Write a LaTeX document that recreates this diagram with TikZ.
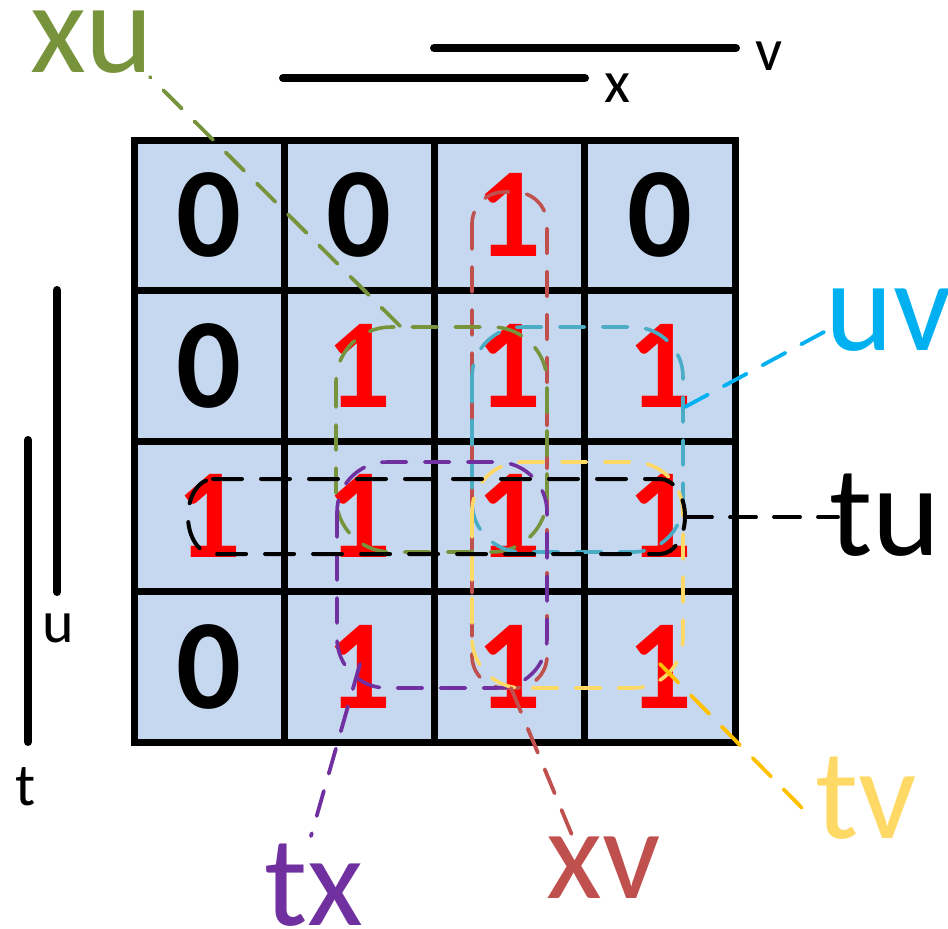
\documentclass[tikz,border=0pt]{standalone}
\usepackage{fontspec}
\setmainfont{Carlito}
\definecolor{cellfill}{HTML}{C5D8EF}
\definecolor{kgreen}{HTML}{77933C}
\definecolor{kblue}{HTML}{4BACC6}
\definecolor{kcyan}{HTML}{00B0F0}
\definecolor{kyellow}{HTML}{FFD966}
\definecolor{korange}{HTML}{FFC000}
\definecolor{kred}{HTML}{C0504D}
\definecolor{kpurple}{HTML}{7030A0}
\definecolor{kone}{HTML}{FF0000}
\tikzset{
  gridline/.style={line width=7pt, line cap=rect},
  digit/.style={inner sep=0pt, font=\fontsize{128}{128}\selectfont\bfseries},
  zero/.style={digit, text=black},
  one/.style={digit, text=kone},
  biglabel/.style={inner sep=0pt, anchor=base, font=\fontsize{129}{129}\selectfont},
  smalllabel/.style={inner sep=0pt, anchor=base, font=\fontsize{60}{60}\selectfont},
  varbar/.style={line width=8pt, line cap=round},
  loop/.style={line width=3.6pt, line cap=round, dash pattern=on 25pt off 18pt, rounded corners=#1},
  link/.style={line width=3.8pt, line cap=round, dash pattern=on 26pt off 18pt}
}
\begin{document}
\begin{tikzpicture}[x=1pt, y=-1pt]
\useasboundingbox (0,0) rectangle (948,929);

% cells of the map
\fill[cellfill] (134,140) rectangle (735,742);
\foreach \i in {0,...,4} {
  \draw[gridline] ({134+150.25*\i},140) -- ({134+150.25*\i},742);
  \draw[gridline] (134,{140+150.5*\i}) -- (735,{140+150.5*\i});
}

% cell values, row by row
\node[zero] (c11) at (209,215) {0};
\node[zero] (c12) at (359,215) {0};
\node[one]  (c13) at (509,215) {1};
\node[zero] (c14) at (660,215) {0};
\node[zero] (c21) at (209,366) {0};
\node[one]  (c22) at (359,366) {1};
\node[one]  (c23) at (509,366) {1};
\node[one]  (c24) at (660,366) {1};
\node[one]  (c31) at (209,516) {1};
\node[one]  (c32) at (359,516) {1};
\node[one]  (c33) at (509,516) {1};
\node[one]  (c34) at (660,516) {1};
\node[zero] (c41) at (209,667) {0};
\node[one]  (c42) at (359,667) {1};
\node[one]  (c43) at (509,667) {1};
\node[one]  (c44) at (660,667) {1};

% variable bars
\draw[varbar] (434,48) -- (736,48);
\draw[varbar] (283,78) -- (585,78);
\draw[varbar] (57,290) -- (57,592);
\draw[varbar] (28,440) -- (28,742);
\node[smalllabel] (lv) at (769,70) {v};
\node[smalllabel] (lx) at (617,102) {x};
\node[smalllabel] (lu) at (58,642) {u};
\node[smalllabel] (lt) at (26,805) {t};

% groupings
\draw[kred, loop=32pt] (472,192) rectangle (547,688);
\draw[kgreen, loop=55pt] (336,327) rectangle (547,552);
\draw[kblue, loop=50pt] (472,327) rectangle (683,552);
\draw[kpurple, loop=50pt] (337,462) rectangle (547,688);
\draw[kyellow, loop=50pt] (472,462) rectangle (683,688);
\draw[black, line width=4pt, line cap=round, dash pattern=on 29pt off 19pt]
  (213,479) -- (660,479) arc[start angle=90, end angle=-90, x radius=25pt, y radius=37.5pt]
  -- (213,554) arc[start angle=270, end angle=90, x radius=25pt, y radius=37.5pt];

% group names
\node[biglabel, text=kgreen]  (nxu) at (92,72)   {xu};
\node[biglabel, text=kcyan]   (nuv) at (889,350) {uv};
\node[biglabel, text=black]   (ntu) at (885,555) {tu};
\node[biglabel, text=kyellow] (ntv) at (866,838) {tv};
\node[biglabel, text=kred]    (nxv) at (604,898) {xv};
\node[biglabel, text=kpurple] (ntx) at (314,925) {tx};

% leader lines
\coordinate (xuA) at (400,326);  \coordinate (xuB) at (150,77);
\coordinate (uvA) at (685,407);  \coordinate (uvB) at (824,332);
\coordinate (tuA) at (686,517);  \coordinate (tuB) at (838,517);
\coordinate (tvA) at (660,664);  \coordinate (tvB) at (803,809);
\coordinate (xvA) at (511,688);  \coordinate (xvB) at (574,840);
\coordinate (txA) at (360,664);  \coordinate (txB) at (311,836);
\draw[kgreen, link] (xuA) -- (xuB);
\draw[kcyan, link] (uvA) -- (uvB);
\draw[black, link] (tuA) -- (tuB);
\draw[korange, link] (tvA) -- (tvB);
\draw[kred, link] (xvA) -- (xvB);
\draw[kpurple, link] (txA) -- (txB);
\end{tikzpicture}
\end{document}
